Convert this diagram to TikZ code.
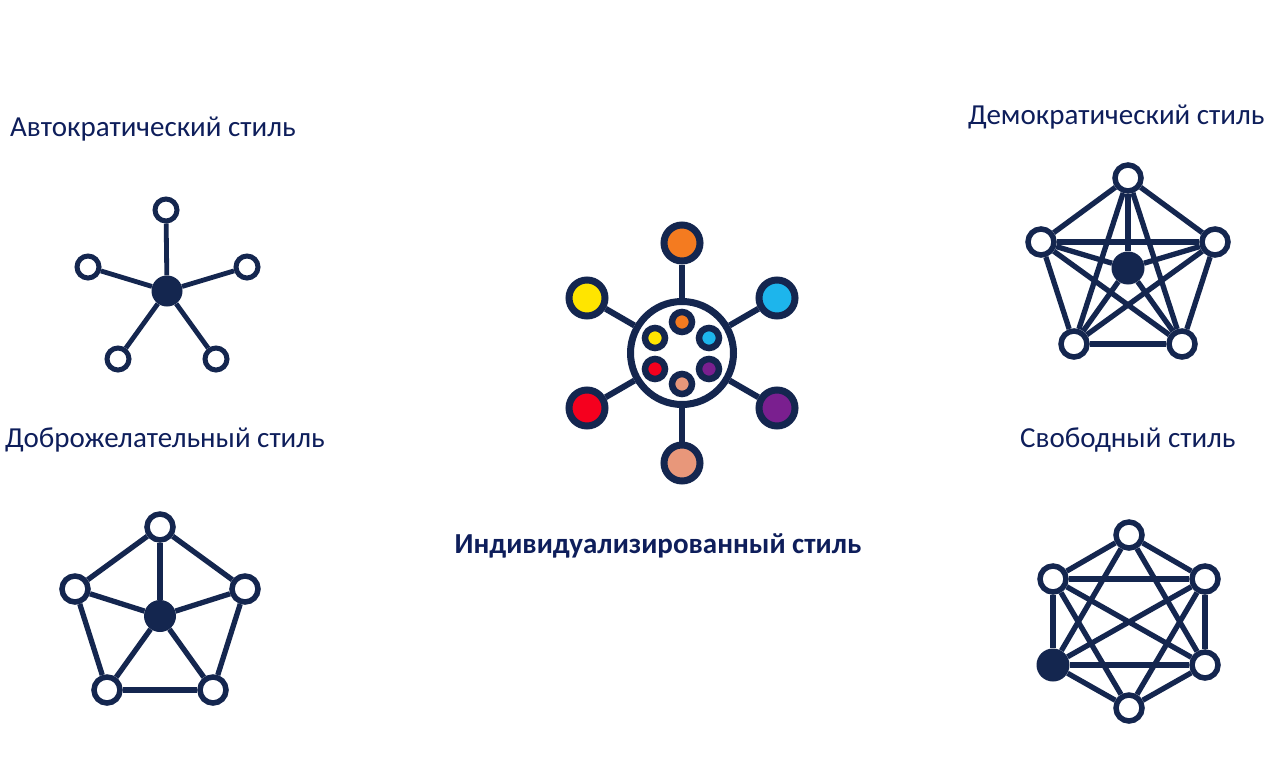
\documentclass[tikz,border=0pt]{standalone}
\usepackage{fontspec}
\setmainfont{Carlito}
\definecolor{navy}{HTML}{14264F}
\definecolor{ink}{HTML}{0E1E5B}
\definecolor{corange}{HTML}{F47B20}
\definecolor{cyellow}{HTML}{FFE500}
\definecolor{ccyan}{HTML}{1DB5EC}
\definecolor{cred}{HTML}{F5001E}
\definecolor{cpurple}{HTML}{7A1F8F}
\definecolor{csalmon}{HTML}{E8977A}
\tikzset{
  pt/.style={circle,draw=navy,line width=5pt,fill=white,minimum size=22pt,inner sep=0pt},
  ptl/.style={circle,draw=navy,line width=5.5pt,fill=white,minimum size=26pt,inner sep=0pt},
  hub/.style={circle,fill=navy,minimum size=31pt,inner sep=0pt},
  edge/.style={draw=navy,line width=4.8pt},
  edgel/.style={draw=navy,line width=5.3pt},
  bigpt/.style={circle,draw=navy,line width=7pt,minimum size=36pt,inner sep=0pt},
  smallpt/.style={circle,draw=navy,line width=6.5pt,minimum size=20pt,inner sep=0pt},
  title/.style={text=ink,font=\fontsize{29}{34}\selectfont,inner sep=0pt}
}
\begin{document}
\begin{tikzpicture}[x=1pt,y=-1pt]
\useasboundingbox (0,0) rectangle (1280,779);
\fill[white] (0,0) rectangle (1280,779);
\node[title,anchor=west] (tauto) at (10,129) {Автократический стиль};
\node[title,anchor=west] (tdemo) at (968,117) {Демократический стиль};
\node[title,anchor=west] (tbene) at (5,440) {Доброжелательный стиль};
\node[title,anchor=west] (tfree) at (1020,440) {Свободный стиль};
\node[title,font=\fontsize{29}{34}\selectfont\bfseries] (tind) at (658,546) {Индивидуализированный стиль};
\node[hub] (a0) at (167,291) {};
\node[pt] (a1) at (166,210) {};
\node[pt] (a2) at (247,267) {};
\node[pt] (a3) at (216,359) {};
\node[pt] (a4) at (118,359) {};
\node[pt] (a5) at (88,267) {};
\draw[edge] (a0) -- (a1);
\draw[edge] (a0) -- (a2);
\draw[edge] (a0) -- (a3);
\draw[edge] (a0) -- (a4);
\draw[edge] (a0) -- (a5);
\node[hub,minimum size=33pt] (d0) at (1128,268) {};
\node[ptl] (d1) at (1128,178) {};
\node[ptl] (d2) at (1215,242) {};
\node[ptl] (d3) at (1182,344) {};
\node[ptl] (d4) at (1074,344) {};
\node[ptl] (d5) at (1041,242) {};
\draw[edgel] (d0) -- (d1);
\draw[edgel] (d0) -- (d2);
\draw[edgel] (d0) -- (d3);
\draw[edgel] (d0) -- (d4);
\draw[edgel] (d0) -- (d5);
\draw[edgel] (d1) -- (d2);
\draw[edgel] (d2) -- (d3);
\draw[edgel] (d3) -- (d4);
\draw[edgel] (d4) -- (d5);
\draw[edgel] (d5) -- (d1);
\draw[edgel] (d1) -- (d3);
\draw[edgel] (d1) -- (d4);
\draw[edgel] (d2) -- (d4);
\draw[edgel] (d2) -- (d5);
\draw[edgel] (d3) -- (d5);
\node[hub,minimum size=32pt] (b0) at (160,616) {};
\node[ptl] (b1) at (160,527) {};
\node[ptl] (b2) at (245,589) {};
\node[ptl] (b3) at (213,690) {};
\node[ptl] (b4) at (107,690) {};
\node[ptl] (b5) at (75,589) {};
\draw[edgel] (b0) -- (b1);
\draw[edgel] (b0) -- (b2);
\draw[edgel] (b0) -- (b3);
\draw[edgel] (b0) -- (b4);
\draw[edgel] (b0) -- (b5);
\draw[edgel] (b1) -- (b2);
\draw[edgel] (b2) -- (b3);
\draw[edgel] (b3) -- (b4);
\draw[edgel] (b4) -- (b5);
\draw[edgel] (b5) -- (b1);
\node[ptl] (f1) at (1129,535) {};
\node[ptl] (f2) at (1205,579) {};
\node[ptl] (f3) at (1205,665) {};
\node[ptl] (f4) at (1129,708) {};
\node[hub,minimum size=33pt] (f5) at (1053,665) {};
\node[ptl] (f6) at (1053,579) {};
\draw[edgel] (f1) -- (f2);
\draw[edgel] (f2) -- (f3);
\draw[edgel] (f3) -- (f4);
\draw[edgel] (f4) -- (f5);
\draw[edgel] (f5) -- (f6);
\draw[edgel] (f6) -- (f1);
\draw[edgel] (f1) -- (f3);
\draw[edgel] (f1) -- (f5);
\draw[edgel] (f3) -- (f5);
\draw[edgel] (f4) -- (f2);
\draw[edgel] (f4) -- (f6);
\draw[edgel] (f2) -- (f6);
\draw[edgel] (f2) -- (f5);
\draw[edgel] (f6) -- (f3);
\node[circle,draw=navy,line width=7pt,fill=white,minimum size=103pt,inner sep=0pt] (ring) at (682,353) {};
\node[bigpt,fill=corange] (i1) at (682,243) {};
\node[bigpt,fill=ccyan] (i2) at (777,298) {};
\node[bigpt,fill=cpurple] (i3) at (777,408) {};
\node[bigpt,fill=csalmon] (i4) at (682,463) {};
\node[bigpt,fill=cred] (i5) at (587,408) {};
\node[bigpt,fill=cyellow] (i6) at (587,298) {};
\draw[edge,line width=6pt] (ring) -- (i1);
\draw[edge,line width=6pt] (ring) -- (i2);
\draw[edge,line width=6pt] (ring) -- (i3);
\draw[edge,line width=6pt] (ring) -- (i4);
\draw[edge,line width=6pt] (ring) -- (i5);
\draw[edge,line width=6pt] (ring) -- (i6);
\node[smallpt,fill=corange] (s1) at (682,322) {};
\node[smallpt,fill=ccyan] (s2) at (709,338) {};
\node[smallpt,fill=cpurple] (s3) at (709,369) {};
\node[smallpt,fill=csalmon] (s4) at (682,384) {};
\node[smallpt,fill=cred] (s5) at (655,369) {};
\node[smallpt,fill=cyellow] (s6) at (655,338) {};
\end{tikzpicture}
\end{document}
